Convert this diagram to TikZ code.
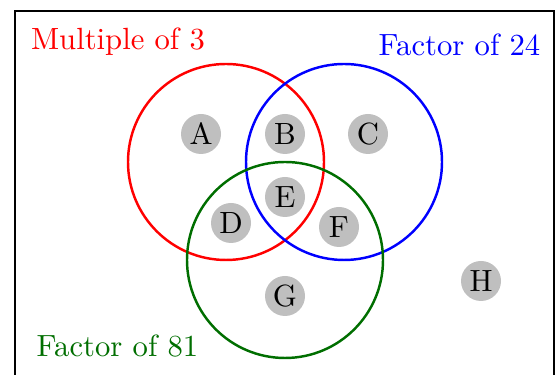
\documentclass[tikz,border=0pt]{standalone}
\usepackage{xcolor}
\definecolor{dkgreen}{RGB}{0,110,0}
\begin{document}
\begin{tikzpicture}[x=0.326pt,y=-0.326pt,
  setcircle/.style={line width=0.8pt},
  dot/.style={circle,fill=gray!50,minimum size=40*0.326pt,inner sep=0pt},
  settitle/.style={font=\normalsize}]
\useasboundingbox (0,0) rectangle (558,375);
\draw[line width=0.9pt] (15,11) rectangle (554,390);
\draw[setcircle,red] (226,162) circle[radius=98];
\draw[setcircle,blue] (344,162) circle[radius=98];
\draw[setcircle,dkgreen] (285,260) circle[radius=98];
\node[settitle,text=red] (t3) at (118,42) {Multiple of 3};
\node[settitle,text=blue] (t24) at (459.5,45) {Factor of 24};
\node[settitle,text=dkgreen] (t81) at (117.5,346) {Factor of 81};
\node[dot] (A) at (201,134) {A};
\node[dot] (B) at (285,134) {B};
\node[dot] (C) at (368,134) {C};
\node[dot] (E) at (285,197) {E};
\node[dot] (D) at (231,223) {D};
\node[dot] (F) at (339,227) {F};
\node[dot] (G) at (285,296) {G};
\node[dot] (H) at (481,281) {H};
\end{tikzpicture}
\end{document}
